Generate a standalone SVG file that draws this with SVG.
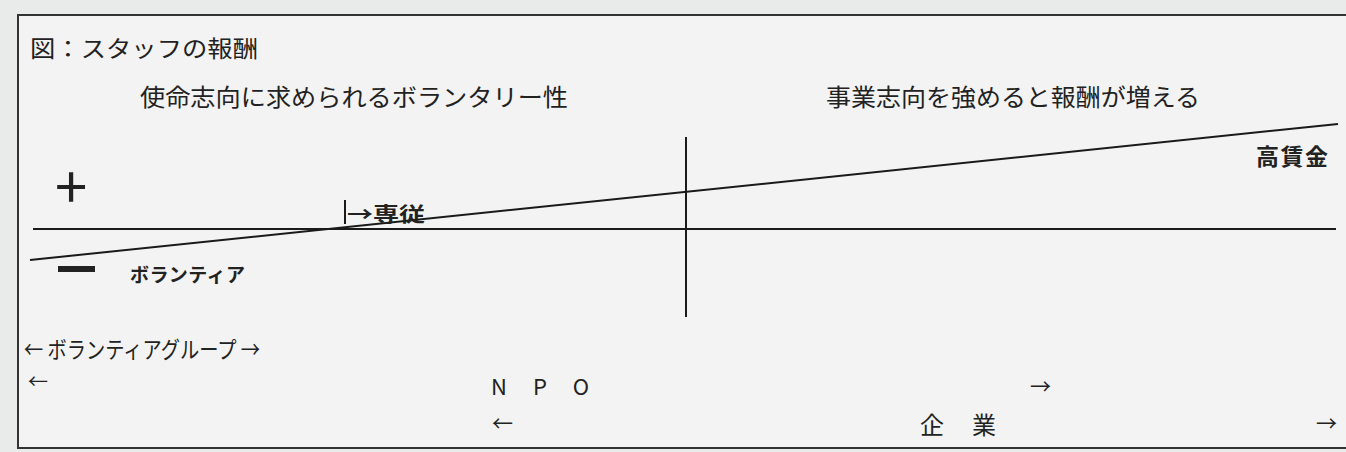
<svg xmlns="http://www.w3.org/2000/svg" width="1346" height="452" viewBox="0 0 1346 452">
<style>
text{font-family:"Noto Sans CJK JP","Liberation Sans",sans-serif;fill:#222}
.t{font-size:24px}
.b{font-weight:bold}
.ln{stroke:#1a1a1a;stroke-width:2;fill:none}
</style>
<rect width="1346" height="452" fill="#e9eaea"/>
<rect x="18" y="15" width="1340" height="433" fill="#f2f3f2" stroke="#333" stroke-width="2"/>
<g id="connectors">
<line class="ln" x1="30" y1="260" x2="1338" y2="124"/>
<line class="ln" x1="33" y1="229" x2="1336" y2="229"/>
<line class="ln" x1="686" y1="137" x2="686" y2="317"/>
<line class="ln" x1="345" y1="200" x2="345" y2="224" stroke-width="1.5"/>
</g>
<g id="title"><text x="30" y="57" font-size="23" textLength="228" lengthAdjust="spacingAndGlyphs">図：スタッフの報酬</text></g>
<g id="left-head"><text class="t" x="140" y="106" textLength="428" lengthAdjust="spacingAndGlyphs">使命志向に求められるボランタリー性</text></g>
<g id="right-head"><text class="t" x="826" y="106" textLength="374" lengthAdjust="spacingAndGlyphs">事業志向を強めると報酬が増える</text></g>
<g id="high"><text class="b" x="1256" y="165" font-size="23" textLength="72">高賃金</text></g>
<g id="plus"><text x="55" y="208" font-size="58" font-family="Liberation Sans">+</text></g>
<g id="minus"><rect x="58" y="266" width="37" height="6" fill="#222"/></g>
<g id="volunteer"><text class="b" x="130" y="282" font-size="19" textLength="115">ボランティア</text></g>
<g id="fulltime"><text class="b" x="347" y="222" font-size="20" textLength="78" lengthAdjust="spacingAndGlyphs">→専従</text></g>
<g id="vgroup"><text x="24" y="358" font-size="23" textLength="236" lengthAdjust="spacingAndGlyphs">← ボランティアグループ →</text></g>
<g id="npo">
<text x="28" y="389" font-size="20">←</text>
<text x="491" y="395" font-size="22" font-family="Liberation Sans" letter-spacing="26">NPO</text>
<text x="1030" y="394" font-size="21">→</text>
</g>
<g id="company">
<text x="492" y="431" font-size="21">←</text>
<text x="920" y="434" font-size="24" textLength="76">企　業</text>
<text x="1316" y="431" font-size="21">→</text>
</g>
</svg>
